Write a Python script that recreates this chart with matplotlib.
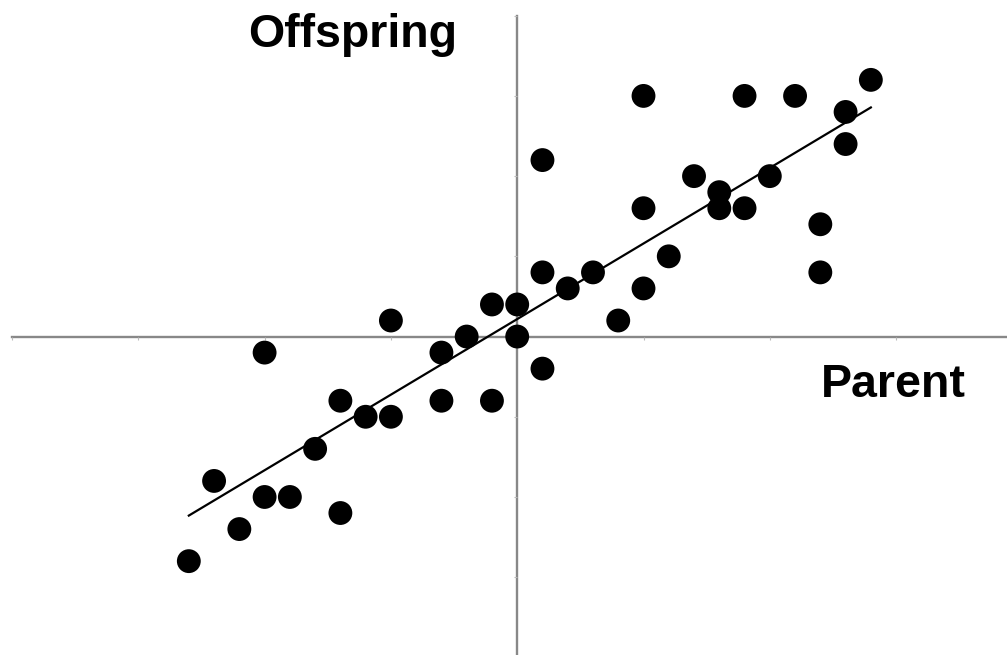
import numpy as np
import matplotlib
matplotlib.use("Agg")
import matplotlib.pyplot as plt

# parent / offspring values (standardised units)
parent = [-2.6, -2.4, -2.2, -2.0, -1.8, -2.0, -1.6, -1.4, -1.4, -1.2, -1.0,
          -1.0, -0.6, -0.6, -0.4, -0.2, -0.2, 0.0, 0.0, 0.2, 0.2, 0.2, 0.4,
          0.6, 0.8, 1.0, 1.0, 1.0, 1.2, 1.4, 1.6, 1.6, 1.8, 1.8, 2.0, 2.2,
          2.4, 2.4, 2.6, 2.6, 2.8]
offspring = [-2.8, -1.8, -2.4, -2.0, -2.0, -0.2, -1.4, -0.8, -2.2, -1.0, -1.0,
             0.2, -0.2, -0.8, 0.0, 0.4, -0.8, 0.4, 0.0, -0.4, 0.8, 2.2, 0.6,
             0.8, 0.2, 0.6, 1.6, 3.0, 1.0, 2.0, 1.8, 1.6, 1.6, 3.0, 2.0, 3.0,
             1.4, 0.8, 2.8, 2.4, 3.2]
x_ticks = [-4, -3, -2, -1, 0, 1, 2, 3]
y_ticks = [-3, -2, -1, 0, 1, 2, 3, 4]

x = np.array(parent)
y = np.array(offspring)
slope, icept = np.polyfit(x, y, 1)
xs = np.array([x.min(), x.max()])

plt.rcParams['font.family'] = ['Liberation Sans', 'DejaVu Sans']

fig = plt.figure(figsize=(10.07, 6.55), dpi=100)
ax = fig.add_axes([12 / 1007, 0, 1 - 12 / 1007, 1 - 15.7 / 655])
ax.set_xlim(-4, 3.878)
ax.set_ylim(-3.97, 4)

ax.scatter(x, y, s=295, c='black', edgecolors='none', zorder=3)
ax.plot(xs, icept + slope * xs, color='black', lw=1.6, zorder=2)

for s in ['top', 'right']:
    ax.spines[s].set_visible(False)
for s in ['left', 'bottom']:
    ax.spines[s].set_position('zero')
    ax.spines[s].set_color('#888888')
    ax.spines[s].set_linewidth(1.7)
    ax.spines[s].set_zorder(1)

ax.set_xticks(x_ticks)
ax.set_yticks(y_ticks)
ax.tick_params(length=2, width=0.8, color='#bbbbbb', direction='out',
               labelbottom=False, labelleft=False)

ax.text(248 / 1007, 1 - 47 / 655, 'Offspring', transform=fig.transFigure,
        fontsize=33.5, fontweight='bold', ha='left', va='baseline')
ax.text(821 / 1007, 1 - 397 / 655, 'Parent', transform=fig.transFigure,
        fontsize=33.5, fontweight='bold', ha='left', va='baseline')

fig.savefig('out.png', dpi=100)
